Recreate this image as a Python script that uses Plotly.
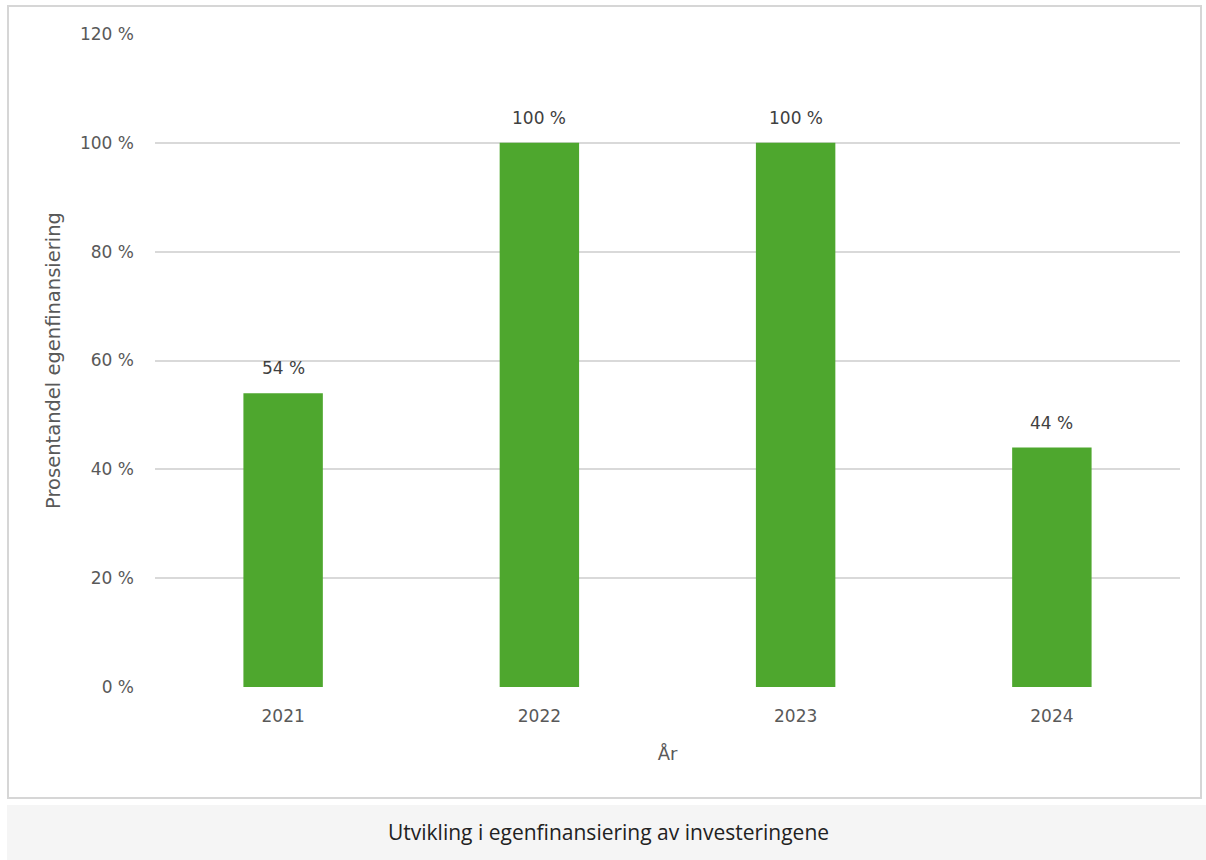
import plotly.graph_objects as go

years = ["2021", "2022", "2023", "2024"]
shares = [54, 100, 100, 44]
label_texts = ["54 %", "100 %", "100 %", "44 %"]
y_ticks = [0, 20, 40, 60, 80, 100, 120]
y_tick_labels = ["0 %", "20 %", "40 %", "60 %", "80 %", "100 %", "120 %"]

W, H = 1206, 860
GREEN = "#4EA72E"
TXT = "#595959"
GRID = "#D9D9D9"
FONT = "DejaVu Sans, Liberation Sans, sans-serif"
FS = 17

fig = go.Figure()
fig.add_trace(go.Bar(x=years, y=shares, marker=dict(color=GREEN, line=dict(width=0)),
                     width=0.31, hoverinfo="skip"))

for i, (v, t) in enumerate(zip(shares, label_texts)):
    fig.add_annotation(x=i, y=v, text=t, showarrow=False, yanchor="bottom",
                       yshift=13, font=dict(size=FS, color="#404040", family=FONT))


def px(x):
    return x / W


def py(y):
    return 1 - y / H


fig.update_layout(
    width=W, height=H,
    margin=dict(l=0, r=0, t=0, b=0, pad=0),
    paper_bgcolor="white", plot_bgcolor="white",
    showlegend=False,
    xaxis=dict(type="category", categoryorder="array", categoryarray=years,
               range=[-0.5, len(years) - 0.5], domain=[px(155), px(1180)],
               showgrid=False, showline=False, zeroline=False, automargin=False,
               ticks="", tickfont=dict(size=FS, color=TXT, family=FONT),
               ticklabelstandoff=17,
               title=dict(text="År", font=dict(size=18, color=TXT, family=FONT), standoff=22)),
    yaxis=dict(domain=[py(687), py(34)], range=[0, 120], tickvals=y_ticks, ticktext=y_tick_labels,
               showgrid=True, gridcolor=GRID, gridwidth=2, zeroline=False, showline=False,
               automargin=False,
               ticks="", tickfont=dict(size=FS, color=TXT, family=FONT), ticklabelstandoff=20,
               title=dict(text="Prosentandel egenfinansiering", font=dict(size=19.5, color=TXT, family=FONT),
                          standoff=14)),
    shapes=[
        dict(type="rect", xref="paper", yref="paper", x0=px(8), x1=px(1201), y0=py(798), y1=py(6),
             line=dict(color="#D6D6D6", width=2), fillcolor="rgba(0,0,0,0)", layer="below"),
        dict(type="rect", xref="paper", yref="paper", x0=px(7), x1=px(1206), y0=py(860), y1=py(805),
             line=dict(width=0), fillcolor="#F5F5F5", layer="below"),
    ],
)
fig.add_annotation(xref="paper", yref="paper", x=px(608), y=py(835), yshift=-13,
                   text="Utvikling i egenfinansiering av investeringene",
                   showarrow=False, font=dict(size=21, color="#222222", family="Open Sans, sans-serif"))

fig.write_html("out.html", config={"displayModeBar": False},
               post_script="document.body.style.margin='0';document.body.style.overflow='hidden';")
